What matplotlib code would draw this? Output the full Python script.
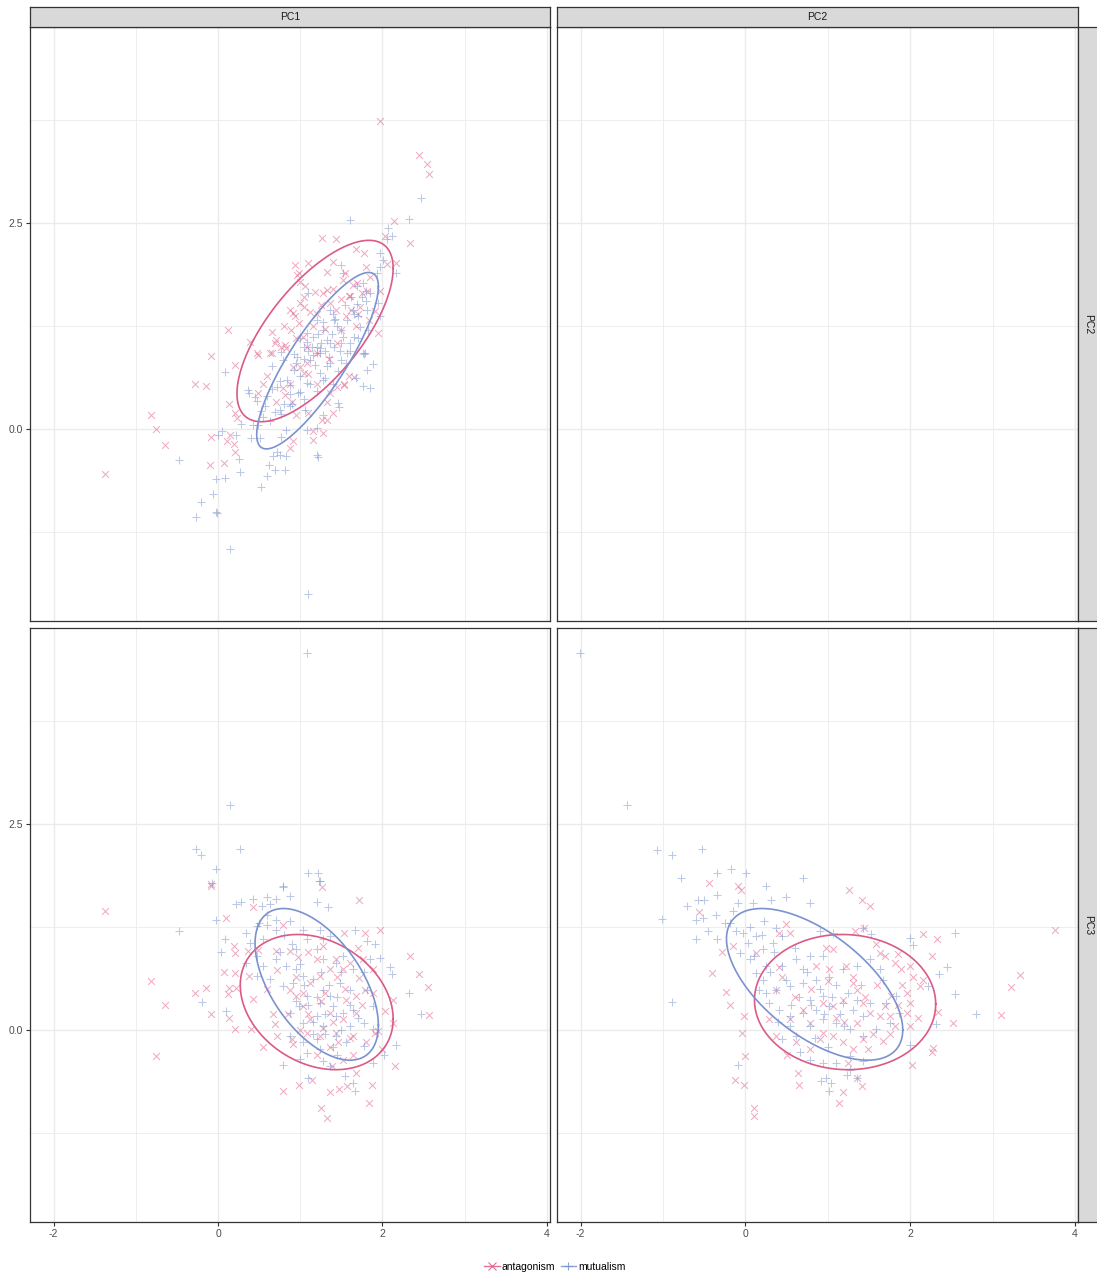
import numpy as np
import matplotlib
matplotlib.use('Agg')
import matplotlib.pyplot as plt
from matplotlib.lines import Line2D

plt.rcParams['font.family'] = ['Liberation Sans', 'DejaVu Sans']

# ---------------- data ----------------
groups = ['antagonism', 'mutualism']
col_labels = ['PC1', 'PC2']
row_labels = ['PC2', 'PC3']

# Panel PC1 (x) vs PC2 (y)
pc1_pc2_ant = [
    (1.97, 3.74), (2.45, 3.32), (2.54, 3.22), (2.56, 3.09), (2.14, 2.52), (2.34, 2.26), (1.27, 2.32), (1.44, 2.30),
    (2.03, 2.34), (2.16, 2.01), (0.94, 1.99), (1.10, 2.01), (0.98, 1.89), (1.06, 1.74), (1.68, 2.18), (1.78, 2.14),
    (1.80, 1.97), (1.33, 1.90), (1.40, 2.03), (1.52, 1.81), (1.64, 1.75), (1.97, 1.67), (1.91, 1.43), (1.95, 1.16),
    (0.12, 1.20), (0.66, 1.18), (0.39, 1.06), (0.47, 0.92), (-0.08, 0.89), (0.91, 1.41), (0.99, 1.29), (0.89, 1.20),
    (1.03, 1.12), (0.69, 1.04), (0.83, 0.98), (1.56, 1.37), (1.68, 1.25), (1.36, 1.53), (1.44, 1.45), (1.60, 1.61),
    (1.28, 1.65), (0.20, 0.78), (-0.28, 0.55), (-0.15, 0.52), (-0.82, 0.17), (-0.75, 0.00), (-0.65, -0.19),
    (-1.37, -0.55), (0.13, 0.30), (0.21, 0.19), (0.23, 0.14), (-0.08, -0.09), (0.11, -0.14), (0.19, -0.18),
    (0.21, -0.28), (0.07, -0.41), (-0.10, -0.44), (0.15, -0.07), (0.49, 0.44), (0.70, 0.33), (0.79, 0.50),
    (0.91, 0.75), (0.95, 0.17), (0.87, -0.23), (0.91, -0.14), (1.15, -0.02), (1.15, -0.13), (1.28, -0.05),
    (1.26, 0.11), (1.33, 0.11), (1.53, 0.54), (1.59, 0.65), (1.36, 0.44), (0.49, 0.90), (0.63, 0.92), (1.04, 0.68),
    (1.08, 0.80), (1.55, 1.89), (0.96, 1.87), (1.00, 1.79), (1.33, 1.69), (1.18, 1.66), (1.69, 1.77), (1.81, 1.67),
    (1.00, 1.53), (0.88, 1.44), (0.94, 1.37), (0.70, 1.08), (0.82, 1.02), (0.65, 0.92), (0.76, 1.00), (1.04, 1.48),
    (1.12, 1.42), (1.49, 1.58), (1.59, 1.62), (1.73, 1.48), (1.83, 1.32), (1.08, 0.99), (1.20, 0.92), (1.00, 0.75),
    (1.10, 0.67), (0.88, 0.55), (0.82, 0.41), (0.90, 0.33), (1.33, 0.33), (1.45, 0.51), (1.53, 0.55), (1.65, 0.63),
    (1.30, 1.22), (1.45, 1.05), (1.20, 1.40), (1.70, 1.40), (1.85, 1.85), (2.05, 2.00),
    (1.25, 1.50), (1.40, 1.70), (1.15, 1.25), (0.95, 1.10), (1.35, 0.85), (1.50, 1.20), (1.62, 1.45), (1.75, 1.65),
    (1.05, 1.60), (0.80, 1.25), (0.60, 0.65), (0.55, 0.55), (1.20, 0.55), (1.10, 0.20), (1.40, 0.20),
]
pc1_pc2_mut = [
    (2.47, 2.80), (2.32, 2.55), (1.61, 2.54), (2.07, 2.44), (2.11, 2.34), (2.05, 2.30), (2.17, 1.89), (1.97, 1.97),
    (2.01, 2.05), (1.97, 2.14), (1.93, 1.89), (1.50, 1.99), (1.52, 1.89), (1.10, 1.65), (1.80, 1.67), (1.76, 1.77),
    (1.95, 1.53), (1.97, 1.37), (1.64, 1.45), (1.70, 1.37), (1.36, 1.45), (1.42, 1.33), (1.28, 1.20), (1.36, 1.04),
    (1.14, 1.00), (1.24, 0.98), (1.52, 1.12), (1.60, 1.04), (1.08, 1.06), (0.77, 0.94), (1.76, 0.92),
    (0.09, 0.69), (-0.47, -0.37), (-0.02, -0.60), (0.09, -0.59), (0.27, -0.52), (-0.06, -0.79), (-0.21, -0.89),
    (-0.27, -1.06), (-0.03, -1.01), (-0.01, -1.02), (0.14, -1.45), (1.09, -2.00), (0.52, -0.70), (0.59, -0.57),
    (0.69, -0.50), (0.81, -0.50), (0.62, -0.43), (0.67, -0.33), (0.75, -0.32), (0.83, -0.33), (1.22, -0.34),
    (0.26, -0.36), (0.00, -0.07), (0.05, -0.02), (0.22, -0.07), (0.40, -0.11), (0.51, -0.11), (0.77, -0.10),
    (0.83, -0.01), (1.08, -0.01), (1.20, 0.01), (0.28, 0.06), (0.43, 0.05), (0.38, 0.44), (0.47, 0.34),
    (0.57, 0.28), (0.69, 0.21), (0.75, 0.23), (0.87, 0.28), (1.06, 0.23), (1.04, 0.36), (1.28, 0.17), (1.46, 0.32),
    (1.47, 0.27), (0.87, 0.54), (0.97, 0.44), (1.08, 0.56), (1.20, 0.46), (0.65, 0.49), (0.75, 0.58), (0.92, 0.91),
    (1.20, 0.92), (1.36, 0.80), (1.24, 0.68), (1.28, 0.60), (1.46, 0.70), (1.56, 0.80), (1.68, 0.62), (1.76, 0.52),
    (1.85, 0.50), (1.81, 0.72), (1.79, 0.92), (0.79, 0.84), (0.66, 0.77), (0.37, 0.48), (0.45, 0.39), (0.52, 0.22),
    (0.63, 0.10), (0.76, 0.18), (0.72, -0.28), (1.20, -0.31), (1.77, 0.91), (1.89, 0.79), (1.20, 0.99),
    (1.24, 0.92), (1.12, 0.84), (1.33, 0.76), (1.41, 0.99), (1.49, 1.20), (1.57, 1.32), (1.65, 1.40), (1.69, 1.52),
    (1.41, 1.32), (1.20, 1.32), (1.04, 0.99), (0.96, 0.88), (0.92, 0.72), (0.84, 0.60), (0.72, 0.51), (1.08, 1.16),
    (1.16, 1.12), (1.33, 1.08), (1.00, 0.64), (1.12, 0.55), (0.88, 0.43), (0.80, 0.31), (1.49, 0.84), (1.57, 0.92),
    (1.65, 1.12), (1.73, 1.24), (1.81, 1.44), (1.85, 1.65), (1.69, 1.73),
    (1.25, 1.05), (1.30, 0.95), (1.38, 1.15), (1.45, 1.25), (1.15, 0.90), (1.05, 0.85), (1.28, 1.30), (1.50, 1.05),
    (1.35, 0.88), (1.18, 0.78), (1.40, 1.40), (1.55, 1.50), (1.62, 1.60), (1.75, 1.60), (1.80, 1.55), (1.10, 0.95),
    (0.95, 0.80), (1.00, 1.10), (1.22, 1.15), (1.48, 0.95), (0.60, 0.40), (0.55, 0.15), (0.48, 0.05), (0.90, 0.30),
    (1.00, 0.45), (1.30, 0.62), (1.40, 0.55), (1.60, 0.95), (1.70, 1.10), (1.82, 1.20),
]

# Panel PC1 (x) vs PC3 (y)
pc1_pc3_ant = [
    (-0.09, 1.77), (1.27, 1.73), (-1.37, 1.44), (-0.08, 1.75), (1.71, 1.58), (0.10, 1.36), (0.79, 1.28), (0.43, 1.49),
    (1.97, 1.21), (1.79, 1.18), (1.53, 1.18), (2.34, 0.90), (2.45, 0.68), (2.55, 0.52), (2.57, 0.18), (-0.82, 0.59),
    (-0.65, 0.30), (-0.28, 0.45), (-0.15, 0.51), (-0.09, 0.20), (-0.75, -0.31), (0.19, 1.02), (0.21, 0.94),
    (0.07, 0.70), (0.21, 0.69), (0.13, 0.51), (0.22, 0.51), (0.12, 0.44), (0.13, 0.15), (0.20, 0.01), (0.40, 0.01),
    (0.38, 0.66), (0.43, 0.38), (0.37, 0.96), (0.49, 0.97), (0.70, 0.96), (0.87, 0.96), (0.97, 0.89), (1.10, 0.95),
    (0.72, 0.73), (0.67, 0.19), (0.69, 0.08), (0.72, -0.07), (0.91, -0.17), (0.90, -0.11), (0.79, -0.74),
    (0.99, -0.66), (1.14, -0.60), (1.36, -0.75), (1.47, -0.71), (1.57, -0.68), (1.25, -0.95), (1.33, -1.07),
    (1.83, -0.88), (1.87, -0.67), (2.15, -0.43), (2.13, 0.09), (2.03, 0.23), (2.13, 0.37), (1.95, -0.01),
    (1.99, -0.23), (1.68, 0.21), (1.72, 0.63), (1.79, 0.49), (1.64, -0.30), (1.80, -0.15), (1.91, -0.04),
    (1.36, -0.21), (1.46, -0.15), (1.64, -0.07), (1.28, 0.03), (1.44, -0.03), (1.52, 0.13), (1.36, 0.21),
    (1.03, 0.29), (0.95, 0.41), (1.12, 0.57), (1.24, 0.66), (1.36, 0.74), (1.52, 0.74), (1.60, 0.82), (1.44, 0.86),
    (0.87, 0.49), (1.03, 0.45), (1.12, 0.13), (1.56, 0.37), (1.68, 0.41), (1.88, 0.45), (1.24, -0.07), (1.08, -0.03),
    (1.52, -0.36), (1.38, -0.44), (1.68, -0.52), (1.20, 0.86), (1.28, 1.02), (1.76, 0.86), (1.88, 0.74),
    (1.10, 0.20), (1.25, 0.35), (1.40, 0.10), (1.55, 0.50), (1.00, 0.00), (1.20, -0.30), (1.60, -0.10), (1.75, 0.30),
    (0.85, 0.20), (0.95, 0.65), (1.30, 0.45), (1.45, 0.65), (1.70, 1.00), (0.60, 0.50), (0.55, -0.20),
]
pc1_pc3_mut = [
    (1.08, 4.58), (0.15, 2.73), (-0.27, 2.20), (-0.21, 2.13), (0.27, 2.20), (-0.02, 1.96), (-0.07, 1.79),
    (1.09, 1.91), (1.21, 1.91), (1.23, 1.81), (0.79, 1.75), (-0.47, 1.20), (-0.02, 1.34), (-0.20, 0.34),
    (0.04, 0.95), (0.09, 1.11), (0.10, 0.23), (0.22, 1.53), (0.28, 1.55), (0.43, 1.59), (0.59, 1.61), (0.71, 1.59),
    (0.87, 1.63), (0.79, 1.74), (0.54, 1.51), (0.63, 1.53), (1.24, 1.81), (1.20, 1.55), (1.34, 1.49), (0.34, 1.18),
    (0.47, 1.26), (0.59, 1.28), (0.71, 1.34), (0.87, 1.32), (0.39, 1.06), (0.55, 1.10), (0.71, 1.22), (1.03, 1.22),
    (1.24, 1.22), (1.36, 1.14), (1.66, 1.22), (1.81, 1.08), (1.91, 1.04), (1.97, 0.88), (1.85, 0.86), (2.09, 0.77),
    (2.11, 0.68), (2.32, 0.45), (2.47, 0.19), (2.17, -0.18), (2.02, -0.30), (1.89, -0.40), (0.79, -0.42),
    (1.10, -0.58), (1.66, -0.74), (1.64, -0.64), (1.54, -0.56), (1.28, -0.38), (1.36, -0.44), (1.08, -0.28),
    (1.24, -0.23), (0.87, -0.07), (1.03, -0.15), (1.20, -0.11), (1.44, -0.07), (1.56, -0.15), (1.77, -0.19),
    (0.71, 0.86), (0.83, 0.78), (0.95, 0.74), (0.47, 0.90), (0.55, 0.78), (0.63, 0.62), (0.79, 0.53), (0.91, 0.57),
    (1.03, 0.66), (1.16, 0.62), (1.28, 0.49), (1.36, 0.41), (1.08, 0.41), (1.24, 0.33), (1.40, 0.29), (1.48, 0.57),
    (1.60, 0.49), (1.44, 0.82), (1.28, 0.86), (1.52, 0.90), (1.64, 0.74), (1.77, 0.70), (1.81, 0.49), (1.89, 0.29),
    (1.64, 0.25), (1.52, 0.21), (1.44, 0.17), (1.20, 0.17), (1.03, 0.09), (1.28, 0.05), (1.60, 0.05), (1.77, 0.09),
    (1.89, 0.01), (0.87, 0.21), (0.99, 0.29), (0.95, 0.98), (1.20, 0.98), (1.28, 1.10), (1.08, 1.10), (0.34, 0.82),
    (0.47, 0.66),
    (1.10, 0.30), (1.20, 0.40), (1.30, 0.20), (1.15, 0.10), (1.35, 0.55), (1.45, 0.40), (1.25, 0.70), (1.05, 0.55),
    (0.95, 0.35), (1.50, 0.00), (1.40, -0.20), (1.60, 0.30), (1.70, 0.15), (1.15, -0.05), (0.90, 1.05), (0.80, 1.15),
    (0.60, 1.40), (0.50, 1.30), (0.75, 0.95), (1.00, 0.80), (1.50, 0.70), (1.30, -0.05), (1.00, -0.35), (1.45, -0.30),
]

# Panel PC2 (x) vs PC3 (y)
pc2_pc3_ant = [
    (-0.44, 1.79), (-0.09, 1.75), (-0.05, 1.70), (1.26, 1.70), (1.41, 1.58), (1.51, 1.51), (-0.56, 1.43),
    (0.49, 1.29), (-0.28, 0.95), (-0.41, 0.69), (-0.24, 0.46), (-0.19, 0.30), (-0.02, 0.17), (-0.04, -0.03),
    (-0.01, -0.31), (-0.13, -0.61), (-0.02, -0.66), (0.10, -0.95), (0.10, -1.04), (0.64, -0.52), (0.65, -0.67),
    (1.14, -0.88), (1.18, -0.75), (1.35, -0.58), (1.42, -0.68), (2.02, -0.42), (2.28, -0.22), (2.26, -0.27),
    (2.52, 0.09), (3.10, 0.18), (3.22, 0.52), (3.33, 0.67), (3.76, 1.21), (2.15, 1.17), (2.32, 1.11), (2.26, 0.90),
    (2.34, 0.22), (1.33, 1.20), (1.44, 1.24), (1.06, 0.98), (0.98, 0.99), (1.59, 1.04), (1.63, 0.94), (1.85, 0.92),
    (1.81, 0.82), (2.00, 0.78), (2.04, 0.65), (1.89, 0.74), (2.16, 0.61), (2.12, 0.53), (1.96, 0.45), (2.00, 0.33),
    (1.77, 0.41), (1.69, 0.29), (1.63, 0.17), (1.75, 0.17), (1.81, 0.05), (1.75, -0.05), (1.67, -0.13),
    (1.49, -0.23), (1.43, -0.11), (2.00, 0.05), (1.96, 0.21), (1.51, 0.21), (1.43, 0.33), (1.35, 0.49),
    (1.31, 0.57), (1.18, 0.37), (1.06, 0.29), (0.94, 0.33), (1.22, 0.78), (1.02, 0.74), (0.86, 0.78), (0.78, 0.09),
    (0.94, -0.03), (1.06, -0.07), (1.18, -0.15), (1.31, -0.23), (1.35, 0.09), (0.45, 0.65), (0.37, 0.49),
    (0.29, 0.13), (0.13, 0.94), (0.41, 0.76), (0.70, 0.25), (0.54, 0.13), (0.37, -0.07), (0.62, -0.15),
    (0.78, -0.23), (0.90, -0.11), (0.41, 1.18), (0.54, 1.18), (-0.15, 1.02),
    (1.20, 0.10), (1.45, 0.40), (1.60, 0.55), (1.70, 0.90), (1.90, 0.55), (1.55, -0.05), (1.10, 0.15), (0.80, 0.50),
    (1.30, 0.65), (1.85, 0.30), (2.10, 0.15), (1.00, 0.60), (0.60, 0.40), (0.50, -0.30), (1.25, -0.40),
]
pc2_pc3_mut = [
    (-2.01, 4.58), (-1.44, 2.73), (-1.07, 2.19), (-0.89, 2.13), (-0.53, 2.20), (-0.17, 1.96), (0.01, 1.91),
    (-0.35, 1.90), (-0.78, 1.84), (0.70, 1.84), (0.25, 1.75), (-1.01, 1.35), (-0.71, 1.51), (-0.58, 1.58),
    (-0.50, 1.58), (-0.34, 1.64), (-0.09, 1.54), (0.09, 1.54), (0.31, 1.58), (0.49, 1.61), (0.79, 1.54),
    (-0.60, 1.34), (-0.52, 1.36), (-0.36, 1.40), (-0.60, 1.10), (-0.45, 1.20), (-0.34, 1.10), (-0.89, 0.34),
    (-0.09, -0.42), (0.03, 1.06), (-0.03, 1.18), (0.23, 1.32), (0.37, 1.24), (0.13, 1.14), (-0.07, 0.94),
    (0.05, 0.86), (0.21, 0.98), (0.33, 1.06), (0.45, 1.14), (0.90, 1.20), (1.06, 1.18), (1.43, 1.24), (1.53, 1.16),
    (2.00, 1.12), (2.04, 1.03), (2.55, 1.18), (2.45, 0.76), (2.35, 0.68), (2.55, 0.44), (2.80, 0.19), (2.31, 0.08),
    (2.22, 0.53), (2.00, -0.18), (0.98, -0.58), (1.04, -0.64), (1.02, -0.74), (1.23, -0.54), (1.27, -0.48),
    (1.35, -0.58), (0.92, -0.62), (0.66, -0.27), (0.78, -0.36), (0.94, -0.40), (1.10, -0.40), (1.27, -0.32),
    (1.43, -0.38), (0.45, -0.11), (0.62, -0.07), (0.54, 0.05), (0.78, 0.05), (0.94, 0.13), (1.10, 0.09),
    (1.27, 0.01), (1.43, -0.07), (1.59, 0.01), (1.75, 0.09), (1.87, 0.21), (1.71, 0.33), (1.67, 0.61), (1.63, 0.74),
    (1.83, 0.41), (0.70, 0.21), (0.86, 0.25), (1.02, 0.29), (1.18, 0.33), (1.35, 0.37), (1.51, 0.33), (0.29, 0.33),
    (0.41, 0.25), (0.54, 0.17), (0.25, 0.45), (0.37, 0.49), (0.54, 0.53), (0.70, 0.57), (0.86, 0.61), (1.02, 0.65),
    (1.18, 0.74), (1.35, 0.78), (1.51, 0.86), (0.13, 0.69), (0.25, 0.78), (0.45, 0.78), (0.62, 0.86), (0.78, 0.90),
    (0.94, 0.90), (0.70, 0.74), (0.49, 0.61), (0.94, 0.41), (0.78, 0.37), (1.43, 0.17), (0.21, 0.61), (0.17, 0.49),
    (-0.19, 1.30), (-0.11, 1.20),
    (0.80, 0.30), (0.95, 0.20), (1.05, 0.40), (1.15, 0.20), (1.25, 0.45), (0.65, 0.40), (0.55, 0.30), (0.90, 0.50),
    (1.30, 0.25), (1.40, 0.55), (0.35, 0.95), (0.20, 1.15), (0.05, 1.25), (-0.15, 1.45), (0.60, 1.00), (0.75, 0.70),
    (1.10, 0.55), (1.20, 0.05), (1.00, -0.20), (0.85, -0.10), (0.40, 0.10), (0.30, 0.70), (-0.25, 1.30), (0.10, 0.90),
]

# 95% ellipses: centre x, centre y, sd x, sd y, correlation
ellipses = {
    'pc1_pc2': {'antagonism': (1.18, 1.19, 0.95, 1.10, 0.69), 'mutualism': (1.21, 0.83, 0.74, 1.07, 0.84)},
    'pc1_pc3': {'antagonism': (1.20, 0.34, 0.93, 0.82, -0.25), 'mutualism': (1.20, 0.555, 0.75, 0.92, -0.54)},
    'pc2_pc3': {'antagonism': (1.21, 0.34, 1.10, 0.82, -0.03), 'mutualism': (0.84, 0.555, 1.07, 0.92, -0.60)},
}

x_ticks = [-2, 0, 2, 4]
x_minor = [-1, 1, 3]
y_ticks = [0.0, 2.5]
y_minor = [-1.25, 1.25, 3.75]
xlim = (-2.2875, 4.0375)
ylim = (-2.3275, 4.8775)

# ---------------- styling ----------------
colors = {'antagonism': '#DB5A86', 'mutualism': '#7A92CF'}
markers = {'antagonism': 'x', 'mutualism': '+'}
msize = {'antagonism': 24, 'mutualism': 36}
grid_c = '#EBEBEB'
border_c = '#333333'
strip_fill = '#D9D9D9'
tick_c = '#4D4D4D'
fs = 7.5

W, H = 1097, 1281
fig = plt.figure(figsize=(W / 100, H / 100), dpi=100)


def ax_at(l, t, r, b):
    return fig.add_axes([l / W, 1 - b / H, (r - l) / W, (b - t) / H])


def style_panel(ax, show_x, show_y):
    ax.set_xlim(*xlim)
    ax.set_ylim(*ylim)
    for v in x_minor:
        ax.axvline(v, color=grid_c, lw=0.6, zorder=0)
    for v in x_ticks:
        ax.axvline(v, color=grid_c, lw=1.0, zorder=0)
    for v in y_minor:
        ax.axhline(v, color=grid_c, lw=0.6, zorder=0)
    for v in y_ticks:
        ax.axhline(v, color=grid_c, lw=1.0, zorder=0)
    ax.set_xticks(x_ticks)
    ax.set_yticks(y_ticks)
    ax.set_xticklabels([f'{v:g}' for v in x_ticks])
    ax.set_yticklabels([f'{v:.1f}' for v in y_ticks])
    ax.tick_params(direction='out', length=3, width=0.8, color=border_c,
                   labelsize=fs, labelcolor=tick_c, pad=2)
    if not show_x:
        ax.tick_params(axis='x', length=0, labelbottom=False)
    if not show_y:
        ax.tick_params(axis='y', length=0, labelleft=False)
    for s in ax.spines.values():
        s.set_color(border_c)
        s.set_linewidth(0.9)
        s.set_zorder(5)


def draw_ellipse(ax, params, color):
    cx, cy, sx, sy, rho = params
    t = np.linspace(0, 2 * np.pi, 300)
    ex = cx + sx * np.cos(t)
    ey = cy + sy * (rho * np.cos(t) + np.sqrt(1 - rho ** 2) * np.sin(t))
    ax.plot(ex, ey, color=color, lw=1.2, zorder=4)


def draw_points(ax, pts, g):
    arr = np.array(pts)
    ax.scatter(arr[:, 0], arr[:, 1], marker=markers[g], s=msize[g], linewidths=0.75,
               color=colors[g], alpha=0.5, zorder=3)


L1, R1, L2, R2 = 30, 550, 557, 1078
T1, B1, T2, B2 = 27, 621, 628, 1222

ax_tl = ax_at(L1, T1, R1, B1)
ax_tr = ax_at(L2, T1, R2, B1)
ax_bl = ax_at(L1, T2, R1, B2)
ax_br = ax_at(L2, T2, R2, B2)

style_panel(ax_tl, False, True)
style_panel(ax_tr, False, False)
style_panel(ax_bl, True, True)
style_panel(ax_br, True, False)

panel_data = [
    (ax_tl, 'pc1_pc2', pc1_pc2_ant, pc1_pc2_mut),
    (ax_bl, 'pc1_pc3', pc1_pc3_ant, pc1_pc3_mut),
    (ax_br, 'pc2_pc3', pc2_pc3_ant, pc2_pc3_mut),
]
for ax, key, ant, mut in panel_data:
    draw_points(ax, ant, 'antagonism')
    draw_points(ax, mut, 'mutualism')
    for g in groups:
        draw_ellipse(ax, ellipses[key][g], colors[g])


def strip(l, t, r, b, text, rot):
    s = ax_at(l, t, r, b)
    s.set_facecolor(strip_fill)
    s.set_xticks([])
    s.set_yticks([])
    for sp in s.spines.values():
        sp.set_color(border_c)
        sp.set_linewidth(0.9)
    s.text(0.5, 0.5, text, ha='center', va='center', rotation=rot,
           fontsize=fs, color='#1A1A1A', transform=s.transAxes)


strip(L1, 7, R1, T1, col_labels[0], 0)
strip(L2, 7, R2, T1, col_labels[1], 0)
strip(R2, T1, 1097.5, B1, row_labels[0], -90)
strip(R2, T2, 1097.5, B2, row_labels[1], -90)

handles = [Line2D([], [], color=colors[g], marker=markers[g], markersize=6,
                  markeredgewidth=0.8, lw=1.0, alpha=0.85) for g in groups]
fig.legend(handles, groups, loc='center', bbox_to_anchor=(555 / W, 1 - 1267 / H),
           ncol=2, frameon=False, fontsize=fs, handlelength=1.5,
           handletextpad=0.2, columnspacing=0.5)

fig.savefig('out.png', dpi=100)
